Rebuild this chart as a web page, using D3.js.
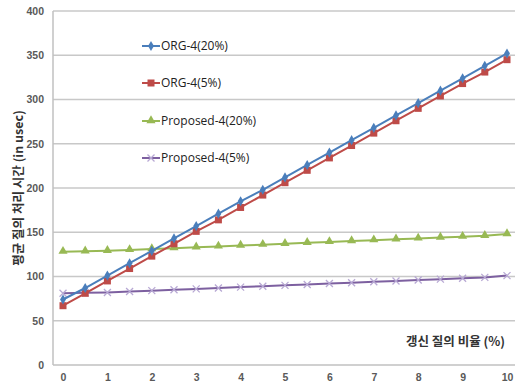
<!DOCTYPE html>
<html>
<head>
<meta charset="utf-8">
<script src="https://cdn.jsdelivr.net/npm/d3@7"></script>
<style>
  body { margin: 0; background: white; }
</style>
</head>
<body>
<svg></svg>
<script>
// chart data
let ratios = [0, 0.5, 1, 1.5, 2, 2.5, 3, 3.5, 4, 4.5, 5, 5.5, 6, 6.5, 7, 7.5, 8, 8.5, 9, 9.5, 10];
let org20 = [74, 87, 101, 115, 129, 143, 157, 171, 185, 198, 212, 226, 240, 254, 268, 282, 296, 310, 324, 338, 352];
let org5 = [67, 81, 95, 109, 123, 137, 151, 164, 178, 192, 206, 220, 234, 248, 262, 276, 290, 304, 318, 331, 345];
let prop20 = [128, 128.5, 129, 130, 131, 132, 133, 134, 135, 136, 137, 138, 139, 140, 141, 142, 143, 144, 145, 146, 148];
let prop5 = [81, 81.5, 82, 83, 84, 85, 86, 87, 88, 89, 90, 91, 92, 93, 94, 95, 96, 97, 98, 99, 101];
let seriesNames = ["ORG-4(20%)", "ORG-4(5%)", "Proposed-4(20%)", "Proposed-4(5%)"];
let yTicks = [0, 50, 100, 150, 200, 250, 300, 350, 400];
let xTicks = [0, 1, 2, 3, 4, 5, 6, 7, 8, 9, 10];

let width = 515, height = 385;
let font_family = "'Noto Sans CJK KR', 'Liberation Sans', sans-serif";

let series = [
    { name: seriesNames[0], values: org20, color: "#4a7ebb", marker: "diamond" },
    { name: seriesNames[1], values: org5, color: "#be4b48", marker: "square" },
    { name: seriesNames[2], values: prop20, color: "#98b954", marker: "triangle" },
    { name: seriesNames[3], values: prop5, color: "#7d60a0", marker: "cross" }
];

let svg = d3.select("svg")
    .attr("width", width)
    .attr("height", height)
    .style("background-color", "white");

let plotLeft = 53, plotRight = 515, plotTop = 11, plotBottom = 365;

let x = d3.scaleLinear().domain([0, 10]).range([63, 507]);
let y = d3.scaleLinear().domain([0, 400]).range([plotBottom, plotTop]);

// horizontal gridlines
svg.append("g")
    .selectAll("line")
    .data(yTicks.filter(d => d > 0))
    .join("line")
    .attr("x1", plotLeft)
    .attr("x2", plotRight)
    .attr("y1", d => y(d))
    .attr("y2", d => y(d))
    .attr("stroke", "#c8c8c8")
    .attr("stroke-width", 1.5);

// axis lines
svg.append("line")
    .attr("x1", plotLeft).attr("x2", plotRight)
    .attr("y1", plotBottom).attr("y2", plotBottom)
    .attr("stroke", "#c0c0c0").attr("stroke-width", 1.5);
svg.append("line")
    .attr("x1", plotLeft).attr("x2", plotLeft)
    .attr("y1", plotTop).attr("y2", plotBottom)
    .attr("stroke", "#c0c0c0").attr("stroke-width", 1.5);

// y tick labels
let yAxis = svg.append("g")
    .attr("transform", "translate(" + (plotLeft - 9) + ",0)")
    .call(d3.axisLeft(y).tickValues(yTicks).tickSize(0).tickPadding(0));
yAxis.select(".domain").remove();
yAxis.selectAll("text")
    .attr("font-size", "10.5px")
    .attr("font-family", "'Liberation Sans', sans-serif")
    .attr("font-weight", "bold")
    .attr("fill", "#595959");

// x tick labels
let xAxis = svg.append("g")
    .attr("transform", "translate(0," + (plotBottom + 9) + ")")
    .call(d3.axisBottom(x).tickValues(xTicks).tickSize(0).tickPadding(0));
xAxis.select(".domain").remove();
xAxis.selectAll("text")
    .attr("font-size", "10.5px")
    .attr("font-family", "'Liberation Sans', sans-serif")
    .attr("font-weight", "bold")
    .attr("fill", "#595959");

// markers
function drawMarker(g, type, color, cx, cy) {
    if (type === "diamond") {
        g.append("path")
            .attr("d", d3.symbol().type(d3.symbolDiamond).size(30)())
            .attr("transform", "translate(" + cx + "," + cy + ")")
            .attr("fill", color);
    } else if (type === "square") {
        g.append("rect")
            .attr("x", cx - 3.5).attr("y", cy - 3.5)
            .attr("width", 7).attr("height", 7)
            .attr("fill", color);
    } else if (type === "triangle") {
        g.append("path")
            .attr("d", d3.symbol().type(d3.symbolTriangle).size(36)())
            .attr("transform", "translate(" + cx + "," + (cy - 0.5) + ")")
            .attr("fill", color);
    } else {
        g.append("path")
            .attr("d", "M-3.5,-3.5L3.5,3.5M-3.5,3.5L3.5,-3.5")
            .attr("transform", "translate(" + cx + "," + cy + ")")
            .attr("stroke", "#b8a9d4")
            .attr("stroke-width", 1.3)
            .attr("fill", "none");
    }
}

let line = d3.line()
    .x((d, i) => x(ratios[i]))
    .y(d => y(d));

series.slice().reverse().forEach(s => {
    let g = svg.append("g");
    g.append("path")
        .attr("d", line(s.values))
        .attr("fill", "none")
        .attr("stroke", s.color)
        .attr("stroke-width", 2);
    s.values.forEach((v, i) => drawMarker(g, s.marker, s.color, x(ratios[i]), y(v)));
});

// legend
let legendY = [46, 83, 121, 158];
series.forEach((s, i) => {
    let g = svg.append("g");
    g.append("line")
        .attr("x1", 142).attr("x2", 160)
        .attr("y1", legendY[i]).attr("y2", legendY[i])
        .attr("stroke", s.color)
        .attr("stroke-width", 2);
    drawMarker(g, s.marker, s.color, 151, legendY[i]);
    g.append("text")
        .attr("x", 161)
        .attr("y", legendY[i] + 4)
        .attr("font-size", "12px")
        .attr("font-family", "'Open Sans', 'Liberation Sans', sans-serif")
        .attr("fill", "#222")
        .text(s.name);
});

// axis titles
svg.append("text")
    .attr("transform", "translate(23," + ((plotTop + plotBottom) / 2) + ") rotate(-90)")
    .attr("text-anchor", "middle")
    .attr("font-size", "12.5px")
    .attr("font-family", font_family)
    .attr("font-weight", "bold")
    .attr("fill", "#333")
    .text("평균 질의 처리 시간 (in usec)");

svg.append("text")
    .attr("x", 505)
    .attr("y", 346)
    .attr("text-anchor", "end")
    .attr("font-size", "12.5px")
    .attr("font-family", font_family)
    .attr("font-weight", "bold")
    .attr("fill", "#333")
    .text("갱신 질의  비율 (%)");
</script>
</body>
</html>
